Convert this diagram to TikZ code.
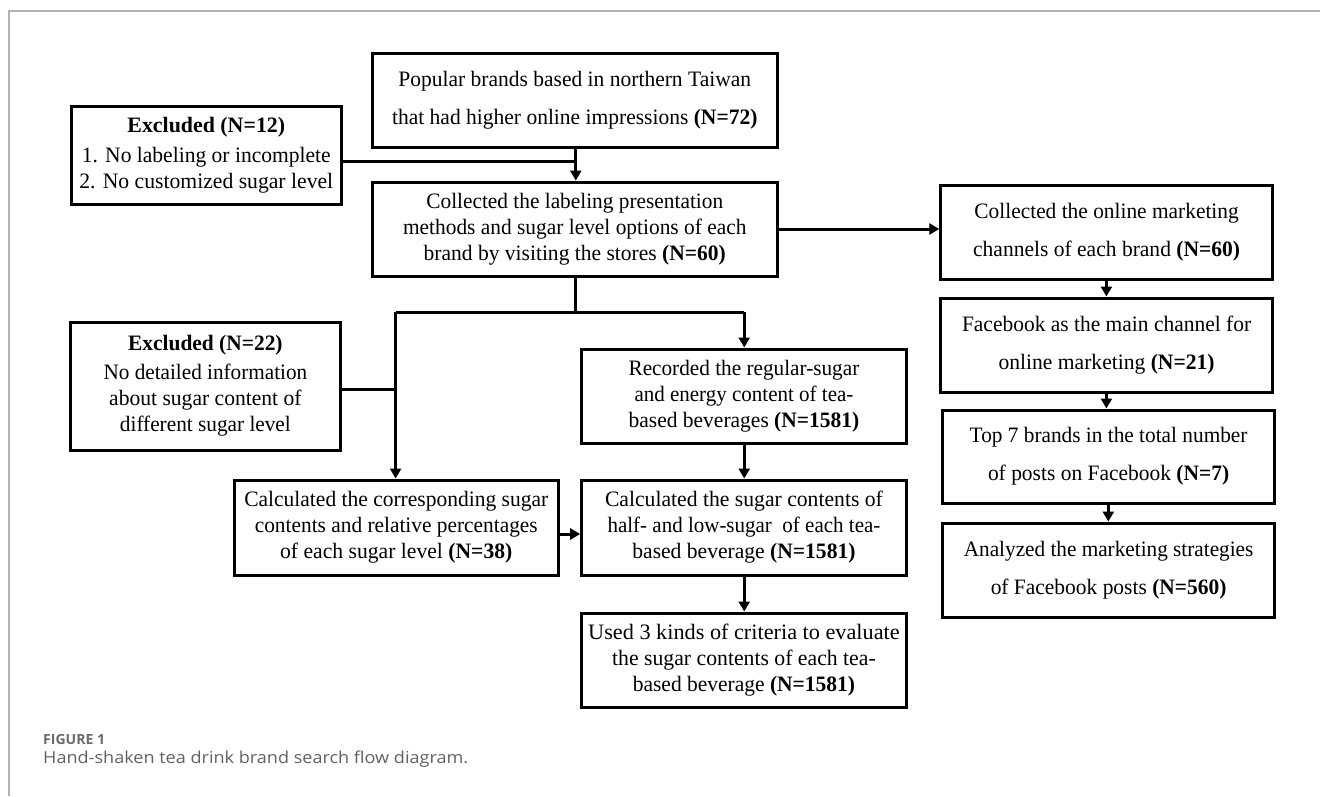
\documentclass[tikz,border=0pt]{standalone}
\usepackage{fontspec}
\setmainfont{Liberation Serif}
\newfontfamily\capfont{Open Sans}
\usepackage{graphicx}
\usetikzlibrary{arrows.meta,calc}
\newcommand\fw[2]{\setbox0=\hbox{#2}\pgfmathsetmacro\fwf{#1/\the\wd0}\scalebox{\fwf}[1]{\box0}}
\begin{document}
\begin{tikzpicture}[x=1pt,y=-1pt,
  box/.style={draw, line width=3pt, align=center, inner sep=0pt, font=\fontsize{22}{26}\selectfont},
  widebox/.style={box, font=\fontsize{22}{38}\selectfont},
  conn/.style={line width=3pt},
  arr/.style={line width=3pt, -{Triangle[length=10pt,width=11pt]}}]
\useasboundingbox (0,0) rectangle (1320,796);
\draw[black!30, line width=1.2pt] (9,796) -- (9,11) -- (1320,11);

\node[widebox, minimum width=404.5pt, minimum height=94pt] (b1) at (574.75,100)
  {\fw{352.7}{Popular brands based in northern Taiwan}\\ \fw{365.4}{that had higher online impressions \textbf{(N=72)}}};
\node[box, minimum width=269.4pt, minimum height=98pt] (e12) at (206.3,155)
  {\fw{157.8}{\textbf{Excluded (N=12)}}\\[4pt] \fw{248.8}{1. No labeling or incomplete}\\ \fw{253.8}{2. No customized sugar level}};
\node[box, minimum width=404.5pt, minimum height=94pt] (b2) at (574.75,229)
  {\fw{296.8}{Collected the labeling presentation}\\ \fw{343.4}{methods and sugar level options of each}\\ \fw{302.2}{brand by visiting the stores \textbf{(N=60)}}};
\node[widebox, minimum width=331.6pt, minimum height=94pt] (r1) at (1106.6,232)
  {\fw{264.3}{Collected the online marketing}\\ \fw{266.9}{channels of each brand \textbf{(N=60)}}};
\node[widebox, minimum width=331.6pt, minimum height=94pt] (r2) at (1106.6,345)
  {\fw{289.2}{Facebook as the main channel for}\\ \fw{215.9}{online marketing \textbf{(N=21)}}};
\node[widebox, minimum width=331.6pt, minimum height=93pt] (r3) at (1108.6,456.5)
  {\fw{277.8}{Top 7 brands in the total number}\\ \fw{241.2}{of posts on Facebook \textbf{(N=7)}}};
\node[widebox, minimum width=331.6pt, minimum height=94pt] (r4) at (1108.6,570)
  {\fw{289.5}{Analyzed the marketing strategies}\\ \fw{235.7}{of Facebook posts \textbf{(N=560)}}};
\node[box, minimum width=269.4pt, minimum height=128pt] (e22) at (205.4,386)
  {\fw{154.5}{\textbf{Excluded (N=22)}}\\[3pt] \fw{203.7}{No detailed information}\\ \fw{192.4}{about sugar content of}\\ \fw{170.9}{different sugar level}};
\node[box, minimum width=323.7pt, minimum height=95pt] (lb) at (396.25,527.5)
  {\fw{303.9}{Calculated the corresponding sugar}\\ \fw{282.9}{contents and relative percentages}\\ \fw{232.3}{of each sugar level \textbf{(N=38)}}};
\node[box, minimum width=324.5pt, minimum height=94pt] (m1) at (743.95,396)
  {\fw{230.7}{Recorded the regular-sugar}\\ \fw{218.9}{and energy content of tea-}\\ \fw{230.7}{based beverages \textbf{(N=1581)}}};
\node[box, minimum width=324.5pt, minimum height=95pt] (m2) at (743.95,527.5)
  {\fw{277.8}{Calculated the sugar contents of}\\ \fw{272.8}{half- and low-sugar\ \ of each tea-}\\ \fw{223.1}{based beverage \textbf{(N=1581)}}};
\node[box, minimum width=324.5pt, minimum height=94pt] (m3) at (743.95,660)
  {\fw{311.5}{Used 3 kinds of criteria to evaluate}\\ \fw{263.5}{the sugar contents of each tea-}\\ \fw{222.2}{based beverage \textbf{(N=1581)}}};

\node[anchor=base west, inner sep=0pt, text=black!58, font=\capfont\bfseries\fontsize{14}{16}\selectfont] (fig) at (43,744) {\fw{62}{FIGURE 1}};
\node[anchor=base west, inner sep=0pt, text=black!62, font=\capfont\fontsize{16.5}{19}\selectfont] (cap) at (43,763) {\fw{425}{Hand-shaken tea drink brand search flow diagram.}};

% connectors
\coordinate (xa) at (575.8,0);
\coordinate (xl) at (395.6,0);
\coordinate (xm) at (744.2,0);
\coordinate (xr) at (1106.4,0);
\coordinate (ja) at (575.8,312);
\coordinate (jl) at (395.6,312);
\coordinate (jm) at (744.2,312);
\draw[arr] (b1.south -| xa) -- (b2.north -| xa);
\draw[conn] (e12.east |- 0,161) -- (575.8,161);
\draw[conn] (b2.south -| xa) -- (ja);
\draw[conn] (jl) -- (jm);
\draw[arr] (jl) -- (lb.north -| xl);
\draw[arr] (jm) -- (m1.north -| xm);
\draw[conn] (e22.east |- 0,389) -- (395.6,389);
\draw[arr] (b2.east |- 0,229) -- (r1.west |- 0,229);
\draw[arr] (r1.south -| xr) -- (r2.north -| xr);
\draw[arr] (r2.south -| xr) -- (r3.north -| xr);
\draw[arr] (r3.south -| 1108.3,0) -- (r4.north -| 1108.3,0);
\draw[arr] (m1.south -| xm) -- (m2.north -| xm);
\draw[arr] (m2.south -| xm) -- (m3.north -| xm);
\draw[arr] (lb.east |- 0,534) -- (m2.west |- 0,534);
\end{tikzpicture}
\end{document}
